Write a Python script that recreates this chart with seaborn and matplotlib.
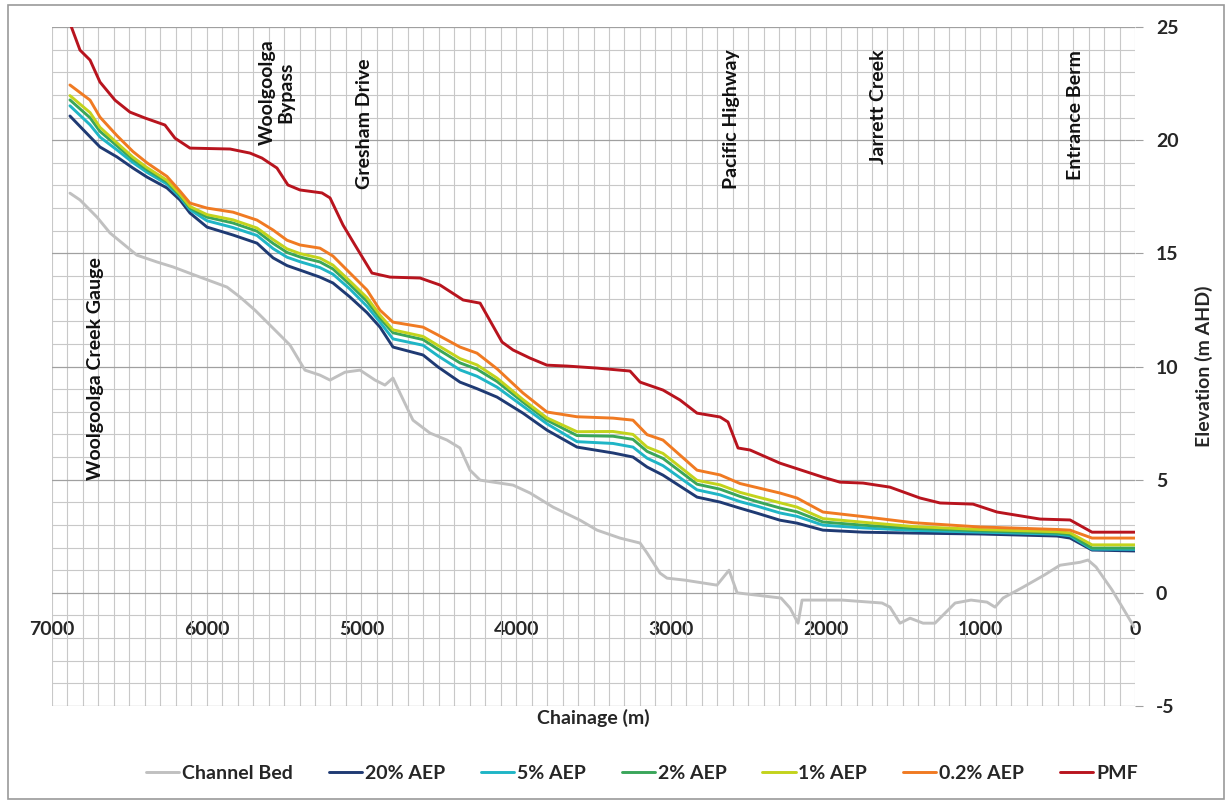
import matplotlib
matplotlib.use("Agg")
import matplotlib.pyplot as plt
from matplotlib.ticker import MultipleLocator
from matplotlib.patches import Rectangle
import seaborn as sns

bed_chainage = [6884, 6819, 6709, 6625, 6515, 6451, 6322, 6218, 6043, 5869, 5785, 5688,
                5591, 5462, 5365, 5268, 5203, 5106, 5009, 4912, 4848, 4796, 4751, 4667,
                4557, 4447, 4363, 4298, 4233, 4020, 3910, 3762, 3587, 3477, 3329, 3199,
                3154, 3070, 3025, 2909, 2702, 2624, 2572, 2288, 2230, 2178, 2152, 1894,
                1635, 1584, 1519, 1454, 1370, 1293, 1163, 1060, 957, 905, 853, 724,
                588, 485, 355, 304, 252, 149, 71, 6]
bed_level = [17.66, 17.36, 16.60, 15.90, 15.28, 14.92, 14.62, 14.40, 13.95, 13.51, 13.07, 12.49,
             11.83, 10.95, 9.84, 9.62, 9.40, 9.75, 9.84, 9.40, 9.18, 9.49, 8.83, 7.63,
             7.06, 6.75, 6.40, 5.42, 4.98, 4.76, 4.41, 3.79, 3.21, 2.77, 2.42, 2.20,
             1.76, 0.87, 0.65, 0.56, 0.34, 1.00, 0.00, -0.23, -0.67, -1.34, -0.32, -0.32,
             -0.45, -0.63, -1.34, -1.12, -1.34, -1.34, -0.45, -0.32, -0.41, -0.63, -0.23, 0.25,
             0.78, 1.22, 1.35, 1.45, 1.14, 0.13, -0.76, -1.51]

aep_chainage = [6884, 6754, 6690, 6580, 6477, 6386, 6257, 6173, 6108, 5998, 5830, 5675,
                5571, 5481, 5397, 5268, 5184, 5074, 4964, 4880, 4796, 4602, 4505, 4363,
                4253, 4124, 3956, 3801, 3607, 3374, 3245, 3154, 3051, 2831, 2682, 2553,
                2443, 2295, 2185, 2017, 1758, 1435, 1002, 504, 420, 278, 0]
aep_20 = [21.07, 20.15, 19.70, 19.26, 18.77, 18.37, 17.89, 17.36, 16.78, 16.16, 15.81, 15.45,
          14.80, 14.46, 14.26, 13.95, 13.69, 13.07, 12.38, 11.74, 10.86, 10.51, 9.98, 9.31,
          9.02, 8.65, 7.94, 7.19, 6.44, 6.18, 6.00, 5.56, 5.20, 4.23, 4.01, 3.74,
          3.52, 3.21, 3.08, 2.77, 2.68, 2.64, 2.60, 2.51, 2.42, 1.89, 1.85]
aep_5 = [21.52, 20.68, 20.14, 19.57, 19.01, 18.58, 18.06, 17.49, 16.93, 16.44, 16.14, 15.79,
         15.21, 14.83, 14.63, 14.37, 14.08, 13.42, 12.66, 11.96, 11.22, 10.94, 10.47, 9.85,
         9.57, 9.09, 8.25, 7.47, 6.68, 6.60, 6.44, 5.95, 5.62, 4.55, 4.33, 4.03,
         3.83, 3.53, 3.38, 2.99, 2.87, 2.76, 2.68, 2.59, 2.52, 1.93, 1.92]
aep_2 = [21.78, 20.99, 20.39, 19.75, 19.15, 18.70, 18.16, 17.56, 17.01, 16.60, 16.34, 15.98,
         15.44, 15.04, 14.84, 14.62, 14.31, 13.62, 12.88, 12.14, 11.49, 11.19, 10.76, 10.16,
         9.88, 9.34, 8.43, 7.63, 6.95, 6.92, 6.78, 6.25, 5.94, 4.80, 4.58, 4.26,
         4.03, 3.75, 3.58, 3.13, 2.99, 2.85, 2.74, 2.64, 2.58, 1.98, 1.98]
aep_1 = [21.97, 21.22, 20.57, 19.88, 19.25, 18.79, 18.23, 17.62, 17.07, 16.71, 16.48, 16.12,
         15.61, 15.20, 14.99, 14.79, 14.48, 13.77, 13.04, 12.27, 11.62, 11.33, 10.93, 10.35,
         10.07, 9.49, 8.54, 7.73, 7.12, 7.13, 7.00, 6.44, 6.16, 4.97, 4.77, 4.44,
         4.24, 3.98, 3.79, 3.28, 3.12, 2.93, 2.80, 2.70, 2.65, 2.12, 2.12]
aep_02 = [22.44, 21.77, 21.02, 20.20, 19.50, 19.00, 18.40, 17.75, 17.22, 17.00, 16.82, 16.47,
          16.03, 15.58, 15.37, 15.23, 14.88, 14.13, 13.38, 12.49, 11.96, 11.74, 11.39, 10.86,
          10.59, 9.90, 8.83, 7.99, 7.78, 7.72, 7.63, 6.99, 6.75, 5.42, 5.21, 4.83,
          4.65, 4.41, 4.19, 3.57, 3.37, 3.10, 2.91, 2.80, 2.77, 2.42, 2.42]

pmf_chainage = [6880, 6819, 6754, 6690, 6593, 6496, 6399, 6270, 6205, 6108, 5849, 5720,
                5643, 5546, 5475, 5397, 5255, 5203, 5119, 5042, 4932, 4815, 4621, 4492,
                4343, 4233, 4091, 4020, 3910, 3801, 3671, 3477, 3264, 3199, 3051, 2941,
                2831, 2682, 2631, 2566, 2488, 2295, 2017, 1907, 1758, 1584, 1390, 1260,
                1047, 892, 614, 420, 278, 0]
pmf = [25.10, 23.98, 23.54, 22.57, 21.77, 21.24, 20.98, 20.67, 20.09, 19.65, 19.61, 19.43,
       19.21, 18.77, 18.02, 17.80, 17.67, 17.45, 16.25, 15.37, 14.13, 13.95, 13.91, 13.60,
       12.94, 12.80, 11.08, 10.73, 10.37, 10.06, 10.02, 9.93, 9.80, 9.31, 8.96, 8.52,
       7.94, 7.77, 7.55, 6.40, 6.31, 5.73, 5.11, 4.89, 4.85, 4.67, 4.19, 3.97,
       3.92, 3.57, 3.26, 3.22, 2.68, 2.68]

# named features along the creek
feature_names = ["Woolgoolga Creek Gauge", "Woolgoolga\nBypass", "Gresham Drive",
                 "Pacific Highway", "Jarrett Creek", "Entrance Berm"]
feature_chainage = [6722, 5546, 4977, 2611, 1661, 387]

sns.set_style("white")
plt.rcParams['font.family'] = ['Lato', 'DejaVu Sans']
plt.rcParams['font.weight'] = 'bold'
plt.rcParams['axes.unicode_minus'] = False

fig = plt.figure(figsize=(12.32, 8.02), dpi=100)
ax = fig.add_axes([0.0422, 0.1197, 0.9213 - 0.0422, 0.9663 - 0.1197])

series = [
    (bed_chainage, bed_level, "Channel Bed", "#c0c0c0"),
    (aep_chainage, aep_20, "20% AEP", "#1f3a73"),
    (aep_chainage, aep_5, "5% AEP", "#1fb5c6"),
    (aep_chainage, aep_2, "2% AEP", "#3aa65a"),
    (aep_chainage, aep_1, "1% AEP", "#c3d31c"),
    (aep_chainage, aep_02, "0.2% AEP", "#f07a22"),
    (pmf_chainage, pmf, "PMF", "#b8141e"),
]
for xs, ys, name, col in series:
    sns.lineplot(x=xs, y=ys, ax=ax, color=col, linewidth=2.1, label=name)

ax.set_xlim(7000, 0)
ax.set_ylim(-5, 25)
ax.xaxis.set_major_locator(MultipleLocator(1000))
ax.xaxis.set_minor_locator(MultipleLocator(100))
ax.yaxis.set_major_locator(MultipleLocator(5))
ax.yaxis.set_minor_locator(MultipleLocator(1))

ax.xaxis.grid(True, which='both', color='#c8c8c8', linewidth=0.8)
ax.yaxis.grid(True, which='minor', color='#c8c8c8', linewidth=0.8)
ax.yaxis.grid(True, which='major', color='#a0a0a0', linewidth=0.9)
ax.set_axisbelow(True)

for s in ax.spines.values():
    s.set_visible(False)
ax.spines['bottom'].set_position(('data', 0))

ax.yaxis.tick_right()
ax.yaxis.set_label_position('right')
ax.tick_params(axis='y', which='major', length=6, color='#a0a0a0', pad=9, labelsize=14)
ax.tick_params(axis='x', which='major', length=0, pad=20, labelsize=14)
ax.tick_params(which='minor', length=0)
ax.set_ylabel("Elevation (m AHD)", fontsize=14, fontweight='bold', labelpad=12)
ax.set_xlabel("Chainage (m)", fontsize=14, fontweight='bold')
ax.xaxis.set_label_coords(0.5, -0.004)

for name, ch in zip(feature_names, feature_chainage):
    if name.startswith("Woolgoolga Creek"):
        ax.text(ch, 5.0, name, rotation=90, ha='center', va='bottom',
                fontsize=14, fontweight='bold', color='#111111')
    else:
        top = 24.45 if "Bypass" in name else (23.6 if "Gresham" in name else 24.0)
        ax.text(ch, top, name, rotation=90, ha='center', va='top', multialignment='center',
                fontsize=14, fontweight='bold', color='#111111', linespacing=1.1)

handles, labels = ax.get_legend_handles_labels()
ax.get_legend().remove()
fig.legend(handles, labels, loc='center', bbox_to_anchor=(0.521, 0.036), ncol=7,
           frameon=False, fontsize=14, handlelength=1.7, handletextpad=0.15,
           columnspacing=1.85)

fig.patches.append(Rectangle((8 / 1232, 3 / 802), 1216 / 1232, 794 / 802,
                             transform=fig.transFigure, fill=False,
                             edgecolor='#9a9a9a', linewidth=1.2))

fig.savefig("out.png", dpi=100)
